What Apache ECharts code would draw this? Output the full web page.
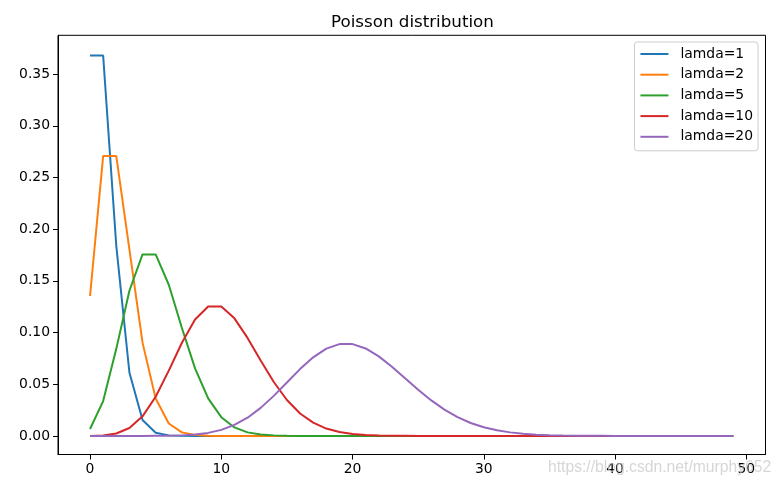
<!DOCTYPE html>
<html>
<head>
<meta charset="utf-8">
<script src="https://cdn.jsdelivr.net/npm/echarts@6/dist/echarts.min.js"></script>
<style>
html,body{margin:0;padding:0;background:#fff;}
#chart{width:782px;height:488px;}
</style>
</head>
<body>
<div id="chart"></div>
<script>
// k = 0 .. 49
var kValues = [0,1,2,3,4,5,6,7,8,9,10,11,12,13,14,15,16,17,18,19,20,21,22,23,24,25,26,27,28,29,30,31,32,33,34,35,36,37,38,39,40,41,42,43,44,45,46,47,48,49];
var seriesNames = ['lamda=1','lamda=2','lamda=5','lamda=10','lamda=20'];
var seriesColors = ['#1f77b4','#ff7f0e','#2ca02c','#d62728','#9467bd'];

var lamda1 = [0.3679,0.3679,0.1839,0.0613,0.0153,0.0031,0.0005,0.0001,0,0,0,0,0,0,0,0,0,0,0,0,0,0,0,0,0,0,0,0,0,0,0,0,0,0,0,0,0,0,0,0,0,0,0,0,0,0,0,0,0,0];
var lamda2 = [0.1353,0.2707,0.2707,0.1804,0.0902,0.0361,0.0120,0.0034,0.0009,0.0002,0,0,0,0,0,0,0,0,0,0,0,0,0,0,0,0,0,0,0,0,0,0,0,0,0,0,0,0,0,0,0,0,0,0,0,0,0,0,0,0];
var lamda5 = [0.0067,0.0337,0.0842,0.1404,0.1755,0.1755,0.1462,0.1044,0.0653,0.0363,0.0181,0.0082,0.0034,0.0013,0.0005,0.0002,0.0000,0,0,0,0,0,0,0,0,0,0,0,0,0,0,0,0,0,0,0,0,0,0,0,0,0,0,0,0,0,0,0,0,0];
var lamda10 = [0.0000,0.0005,0.0023,0.0076,0.0189,0.0378,0.0631,0.0901,0.1126,0.1251,0.1251,0.1137,0.0948,0.0729,0.0521,0.0347,0.0217,0.0128,0.0071,0.0037,0.0019,0.0009,0.0004,0.0002,0.0001,0,0,0,0,0,0,0,0,0,0,0,0,0,0,0,0,0,0,0,0,0,0,0,0,0];
var lamda20 = [0,0,0,0,0,0.0001,0.0002,0.0005,0.0013,0.0029,0.0058,0.0106,0.0176,0.0271,0.0387,0.0516,0.0646,0.0760,0.0844,0.0888,0.0888,0.0846,0.0769,0.0669,0.0557,0.0446,0.0343,0.0254,0.0181,0.0125,0.0083,0.0054,0.0034,0.0020,0.0012,0.0007,0.0004,0.0002,0.0001,0.0001,0,0,0,0,0,0,0,0,0,0];
var xTicks = [0,10,20,30,40,50];
var yTicks = [0,0.05,0.10,0.15,0.20,0.25,0.30,0.35];
var titleText = 'Poisson distribution';
var watermarkText = 'https://blog.csdn.net/murphy652';

var allValues = [lamda1, lamda2, lamda5, lamda10, lamda20];

var chart = echarts.init(document.getElementById('chart'), null, {renderer:'canvas'});
var font = 'DejaVu Sans';

var series = allValues.map(function(vals, i){
  return {
    name: seriesNames[i],
    type: 'line',
    data: kValues.map(function(k, j){ return [k, vals[j]]; }),
    symbol: 'none',
    showSymbol: false,
    lineStyle: {color: seriesColors[i], width: 2},
    itemStyle: {color: seriesColors[i]},
    z: 2 + i,
    animation: false
  };
});

var option = {
  animation: false,
  backgroundColor: '#fff',
  title: {
    text: titleText,
    left: 326,
    top: 9,
    textStyle: {fontFamily: font, fontSize: 16.7, fontWeight: 'normal', color: '#000'}
  },
  legend: {
    orient: 'vertical',
    right: 24,
    top: 42,
    itemWidth: 28,
    itemHeight: 14,
    itemGap: 6.7,
    padding: [5, 5, 7, 5],
    backgroundColor: 'rgba(255,255,255,0.8)',
    borderColor: '#cccccc',
    borderWidth: 1,
    borderRadius: 3,
    itemStyle: {opacity: 0},
    lineStyle: {width: 2},
    textStyle: {fontFamily: font, fontSize: 13.9, color: '#000', padding: [0,0,0,7]},
    data: seriesNames
  },
  grid: {
    left: 58, right: 16.5, top: 35.3, bottom: 33.5,
    show: true, borderColor: '#000', borderWidth: 1, backgroundColor: 'transparent'
  },
  xAxis: {
    type: 'value',
    min: -2.44,
    max: 51.46,
    axisLine: {show: true, onZero: false, lineStyle: {color: '#000', width: 1}},
    axisTick: {show: true, length: 5, lineStyle: {color: '#000'}, customValues: xTicks},
    axisLabel: {show: true, customValues: xTicks, fontFamily: font, fontSize: 13.9, color: '#000', margin: 8,
      formatter: function(v){ return String(Math.round(v)); }},
    splitLine: {show: false}
  },
  yAxis: {
    type: 'value',
    min: -0.0180,
    max: 0.3875,
    axisLine: {show: true, onZero: false, lineStyle: {color: '#000', width: 1}},
    axisTick: {show: true, length: 5, lineStyle: {color: '#000'}, customValues: yTicks},
    axisLabel: {show: true, customValues: yTicks, fontFamily: font, fontSize: 13.9, color: '#000', margin: 8,
      formatter: function(v){ return v.toFixed(2); }},
    splitLine: {show: false}
  },
  graphic: [{
    type: 'text',
    left: 548,
    top: 460,
    z: 100,
    style: {text: watermarkText, fill: 'rgba(200,200,200,0.75)', font: '15.7px "Liberation Sans Narrow", "Liberation Sans", sans-serif'}
  }],
  series: series
};
chart.setOption(option);
</script>
</body>
</html>
